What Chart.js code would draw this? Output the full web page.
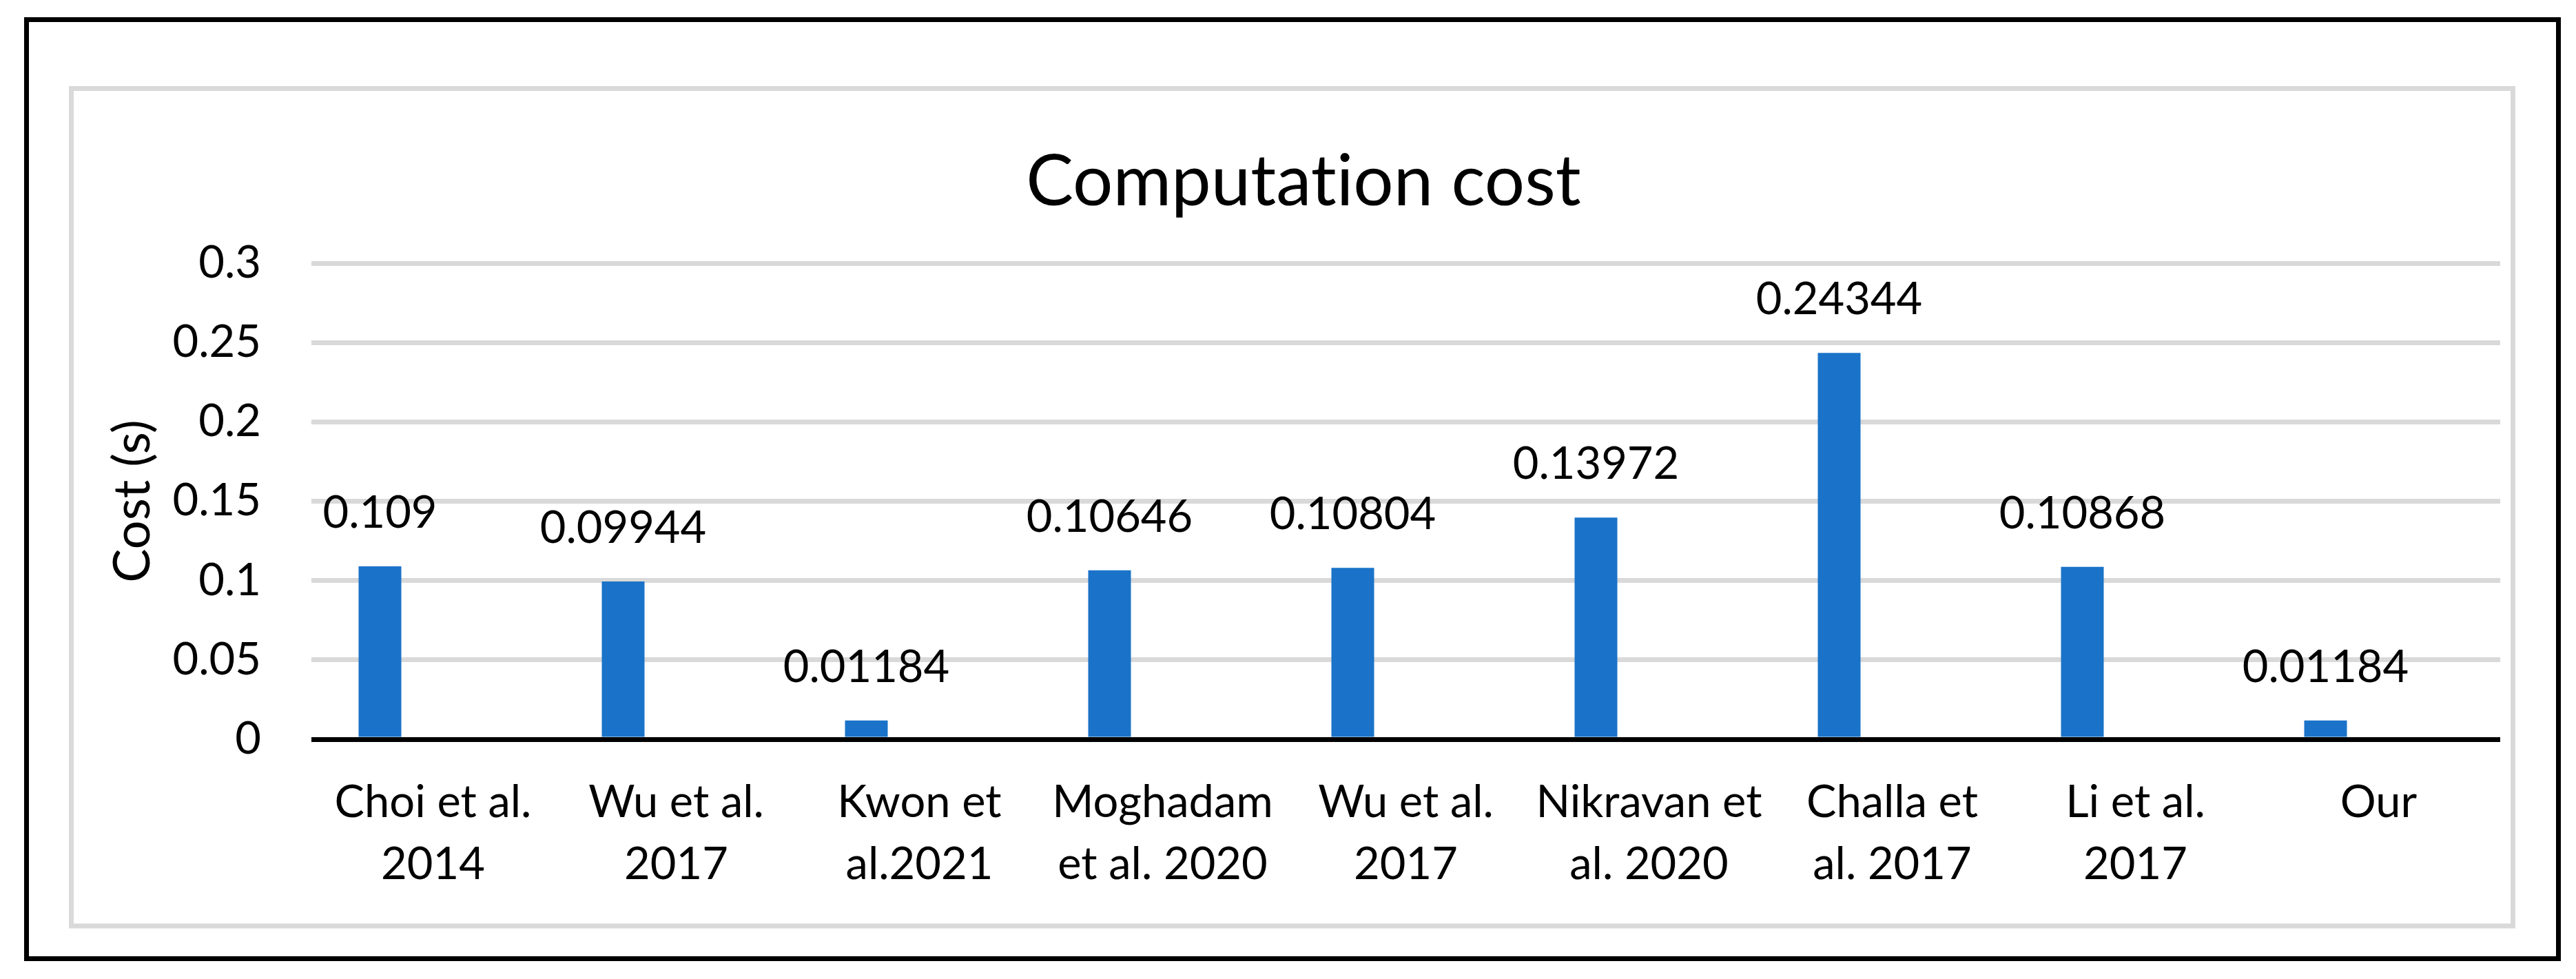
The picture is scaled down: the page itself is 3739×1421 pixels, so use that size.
<!DOCTYPE html>
<html>
<head>
<meta charset="utf-8">
<script src="https://cdn.jsdelivr.net/npm/chart.js@4.4.1/dist/chart.umd.min.js"></script>
<style>
  html, body { margin: 0; padding: 0; background: #ffffff; }
  canvas { display: block; }
</style>
</head>
<body>
<canvas id="c" width="3739" height="1421"></canvas>
<script>
// ---- data ----
const categories = [
  ["Choi et al.", "2014"],
  ["Wu et al.", "2017"],
  ["Kwon et", "al.2021"],
  ["Moghadam", "et al. 2020"],
  ["Wu et al.", "2017"],
  ["Nikravan et", "al. 2020"],
  ["Challa et", "al. 2017"],
  ["Li et al.", "2017"],
  ["Our"]
];
const costValues = [0.109, 0.09944, 0.01184, 0.10646, 0.10804, 0.13972, 0.24344, 0.10868, 0.01184];
const emptySeries = [];
const yTickValues = [0, 0.05, 0.1, 0.15, 0.2, 0.25, 0.3];
const yTickLabels = ["0", "0.05", "0.1", "0.15", "0.2", "0.25", "0.3"];
const chartTitle = "Computation cost";
const yAxisTitle = "Cost (s)";

const FONT = "Lato";
const W = 3739, H = 1421;

const framePlugin = {
  id: 'frame',
  beforeDraw(chart) {
    const ctx = chart.ctx;
    try { ctx.textRendering = 'optimizeSpeed'; } catch (e) {}
    ctx.save();
    ctx.fillStyle = '#ffffff';
    ctx.fillRect(0, 0, W, H);
    ctx.lineWidth = 7;
    ctx.strokeStyle = '#d9d9d9';
    ctx.strokeRect(103.5, 128.5, 3544, 1215.5);
    ctx.strokeStyle = '#000000';
    ctx.strokeRect(38.5, 28.5, 3675, 1363);
    ctx.restore();
  }
};

const valueLabelPlugin = {
  id: 'valueLabels',
  afterDatasetsDraw(chart) {
    const ctx = chart.ctx;
    const meta = chart.getDatasetMeta(0);
    ctx.save();
    ctx.font = 'normal 65px ' + FONT;
    ctx.fillStyle = '#000000';
    ctx.textAlign = 'center';
    ctx.textBaseline = 'alphabetic';
    meta.data.forEach((bar, i) => {
      const v = costValues[i];
      if (v === null || v === undefined) return;
      ctx.fillText(String(v), bar.x, bar.y - 56);
    });
    ctx.restore();
  }
};

new Chart(document.getElementById('c'), {
  type: 'bar',
  data: {
    labels: categories,
    datasets: [
      { label: 'Cost', data: costValues, backgroundColor: '#1a73c8', borderWidth: 0,
        categoryPercentage: 0.8725, barPercentage: 0.4026 },
      { label: 'Series 2', data: emptySeries, backgroundColor: '#ed7d31', borderWidth: 0,
        categoryPercentage: 0.8725, barPercentage: 0.4026 }
    ]
  },
  options: {
    responsive: false,
    animation: false,
    devicePixelRatio: 1,
    layout: { padding: { left: 155, right: 110, top: 0, bottom: 0 } },
    plugins: {
      legend: { display: false },
      tooltip: { enabled: false },
      title: {
        display: true,
        text: chartTitle,
        color: '#000000',
        font: { family: FONT, size: 103, weight: 'normal', lineHeight: 1.2 },
        padding: { top: 203, bottom: 55.4 }
      }
    },
    scales: {
      x: {
        grid: { display: false, drawTicks: false },
        border: { display: false },
        ticks: {
          color: '#000000',
          font: { family: FONT, size: 65, lineHeight: 1.37 },
          padding: 48,
          maxRotation: 0,
          autoSkip: false
        },
        afterFit(scale) { scale.height = H - 1073; }
      },
      y: {
        min: 0,
        max: 0.3,
        afterBuildTicks(scale) { scale.ticks = yTickValues.map(v => ({ value: v })); },
        grid: {
          color: (c) => (c.tick && c.tick.value === 0) ? '#000000' : '#d9d9d9',
          lineWidth: 7,
          drawTicks: false,
          tickLength: 0
        },
        border: { display: false },
        ticks: {
          color: '#000000',
          font: { family: FONT, size: 65 },
          padding: 73,
          callback: (value, index) => yTickLabels[index]
        },
        title: {
          display: true,
          text: yAxisTitle,
          color: '#000000',
          font: { family: FONT, size: 74, lineHeight: 1.0 },
          padding: { top: 1, bottom: 0 }
        },
        afterFit(scale) { scale.width = 297; }
      }
    }
  },
  plugins: [framePlugin, valueLabelPlugin]
});
</script>
</body>
</html>
